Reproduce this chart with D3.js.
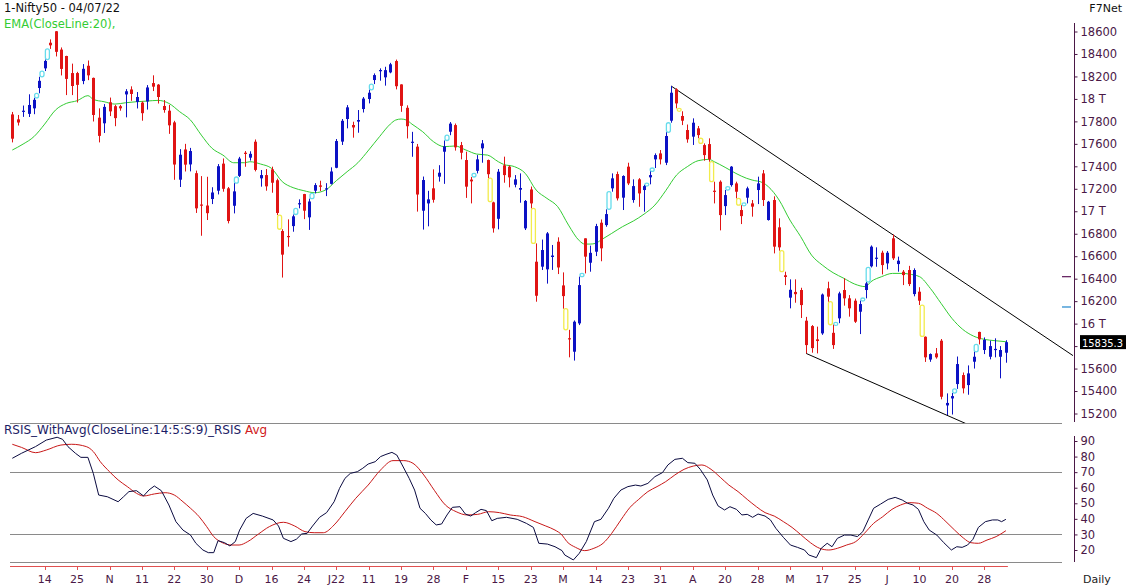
<!DOCTYPE html>
<html>
<head>
<meta charset="utf-8">
<script src="https://cdn.jsdelivr.net/npm/d3@7"></script>
<style>
  body { margin: 0; background: #fff; }
  svg { display: block; font-family: "DejaVu Sans", Verdana, sans-serif; }
</style>
</head>
<body>
<svg id="chart" width="1126" height="587"></svg>
<script>
// daily candles, bar 0 = 06 Oct 2021 ... bar 184 = 04 Jul 2022
var opens = [17862,17818,17886,17867,17916,18097,18272,18500,18602,18439,18382,18230,18230,18159,18295,18187,17833,17783,17970,17935,
  17935,18040,18084,17973,17967,17977,18141,18127,17937,17895,17791,17281,17550,17417,17339,17060,17051,17109,17183,17424,
  17204,17049,17315,17521,17477,17619,17293,17322,17373,17276,16824,16780,16868,17066,17153,16946,17183,17230,17201,17244,
  17387,17620,17821,17768,17798,17910,17999,18168,18250,18192,18236,18337,18129,17921,17613,17575,17005,17070,17204,17308,
  17530,17708,17767,17589,17456,17282,17360,17560,17456,17079,16933,17409,17397,17236,17192,16848,17194,16551,16507,16483,
  16593,16729,16340,15870,15750,16002,16759,16542,16640,16898,16877,17204,17331,17121,17397,17100,17284,17189,17302,17462,
  17515,17432,17806,18085,17848,17723,17664,17738,17589,17598,17183,17263,17046,17233,17248,17011,17121,17070,17189,17337,
  16922,17100,16857,16430,16231,16282,16299,16026,15978,15860,15913,16314,15918,16047,16299,16225,16204,16106,16299,16510,
  16578,16631,16536,16759,16530,16462,16477,16263,16284,15883,15680,15735,15848,15272,15334,15462,15542,15453,15661,15926,
  15765,15705,15768,15705,15741];
var highs = [17884,17857,17941,18041,18009,18197,18350,18530,18604,18458,18384,18314,18241,18310,18342,18190,17916,17954,18012,17947,
  17947,18087,18112,18061,17978,18123,18210,18132,17990,17946,17805,17553,17600,17564,17362,17313,17307,17214,17420,17470,
  17216,17250,17484,17536,17534,17639,17367,17376,17397,17290,16840,16928,16971,17106,17155,17112,17250,17272,17250,17391,
  17643,17821,17945,17797,17901,18017,18081,18227,18272,18286,18321,18350,18130,17943,17707,17599,17309,17182,17373,17410,
  17630,17794,17781,17617,17530,17305,17500,17634,17460,17085,17376,17486,17408,17322,17337,17100,17220,16714,16748,16815,
  16700,16768,16456,15945,16028,16418,16759,16694,16888,16927,17017,17337,17353,17320,17432,17284,17295,17235,17355,17515,
  17545,17703,18115,18095,17890,17772,17827,17759,17604,17649,17263,17275,17189,17402,17263,17054,17219,17100,17308,17367,
  17092,17133,16937,16462,16394,16394,16319,16060,15987,15973,16268,16373,15990,16284,16403,16254,16223,16204,16370,16696,
  16679,16649,16646,16793,16596,16477,16514,16492,16324,15886,15735,15783,15863,15379,15382,15707,15565,15628,15749,15928,
  15877,15848,15869,15800,15852];
var lows = [17613,17763,17840,17839,17864,18050,18248,18445,18378,18209,18034,18034,17968,18131,18167,17799,17613,17697,17847,17757,
  17895,17836,17983,17915,17806,17905,18070,17959,17877,17689,17280,17216,17354,17355,16985,16782,16922,17064,17150,17174,
  16892,16981,17305,17396,17451,17355,17219,17183,17165,16966,16410,16685,16818,17026,16930,16834,17159,17180,17135,17238,
  17383,17590,17738,17655,17699,17879,17960,18132,18162,18118,18228,18085,17885,17648,17485,16997,16837,16866,17077,17264,
  17244,17677,17540,17462,17119,17070,17337,17432,17295,16810,16839,17254,17213,17213,17076,16833,17026,16195,16477,16356,
  16478,16441,16133,15700,15671,15987,16447,16462,16601,16555,16862,17174,17096,17011,17233,17076,17040,16996,17240,17385,
  17417,17411,17788,17916,17767,17610,17590,17650,17450,17441,17070,16830,16966,17219,17115,16886,17070,16952,17064,17047,
  16917,16625,16649,16343,16136,16186,16050,15735,15741,15735,15900,16195,15775,16004,16160,16062,16006,15907,16225,16500,
  16506,16438,16483,16566,16462,16343,16334,16243,16165,15659,15660,15688,15326,15186,15191,15419,15379,15367,15600,15815,
  15729,15682,15700,15513,15652];
var closes = [17646,17790,17895,17946,17992,18161,18338,18477,18419,18267,18178,18115,18125,18268,18210,17857,17671,17929,17889,17829,
  17916,18068,18044,18017,17873,18102,18109,18017,17901,17765,17416,17503,17415,17536,17026,17053,16983,17167,17401,17200,
  16913,17177,17469,17510,17511,17368,17322,17222,17254,16985,16614,16770,16955,17072,17005,17087,17233,17218,17204,17354,
  17625,17805,17925,17746,17812,18003,18055,18212,18257,18256,18308,18113,17938,17757,17619,17149,17278,17106,17102,17343,
  17577,17780,17569,17521,17219,17266,17462,17604,17330,16848,17352,17322,17302,17284,17207,17092,17070,16248,16655,16803,
  16606,16500,16245,15863,16017,16343,16596,16630,16868,16670,16975,17293,17115,17314,17248,17224,17159,17224,17322,17500,
  17462,17670,18055,17960,17806,17640,17788,17678,17500,17462,17174,16966,17144,17397,17174,16957,17204,17041,17248,17100,
  17085,16685,16679,16415,16301,16262,16165,15809,15782,15845,16259,16240,15809,16269,16225,16136,16017,16174,16358,16685,
  16587,16521,16631,16581,16560,16432,16352,16477,16204,15700,15729,15700,15349,15294,15355,15640,15424,15557,15705,15860,
  15855,15800,15775,15765,15835];

// EMA(20) at these bars
var emaIdx = [0,2,4,6,8,10,12,14,15,17,19,21,23,25,27,29,31,33,35,37,39,41,43,44,46,48,50,52,54,56,58,60,62,64,66,68,70,71,72,73,74,76,78,80,82,84,86,88,90,
  91,93,95,97,99,101,103,105,106,107,108,109,111,113,115,117,119,121,123,125,127,129,130,132,134,136,137,139,140,142,144,146,148,150,152,154,156,158,159,161,163,165,166,168,170,172,174,176,178,180,182,184];
var emaVal = [17545,17598,17664,17776,17901,17960,17984,18029,17996,17975,17954,17966,17975,17981,17987,17960,17886,17812,17678,17560,17500,17432,17432,17441,17420,17382,17263,17210,17183,17165,17189,17272,17352,17432,17545,17664,17776,17812,17821,17812,17776,17708,17619,17575,17581,17545,17509,17500,17441,
  17417,17397,17337,17189,17115,17041,16877,16738,16708,16708,16714,16744,16803,16863,16913,16975,17055,17183,17322,17397,17450,17462,17441,17391,17337,17293,17278,17254,17219,17100,16922,16774,16610,16521,16453,16403,16352,16329,16373,16418,16447,16447,16441,16418,16314,16180,16047,15949,15889,15860,15848,15839];

// trend lines through two candle extremes
var trendUpperIdx = [122, 163];
var trendUpperVal = [18115, 16793];
var trendLowerIdx = [147, 173];
var trendLowerVal = [15735, 15186];

// RSI (black) and its average (red)
var rsiIdx = [0,1.7,4.3,6.3,8.3,9.3,10.3,11.7,12.7,14,15,16,17.6,19.6,20.6,21.6,23,24.3,25.3,26.3,27.6,29,30.3,31.6,33,34,35.3,36.3,37.3,38.1,39.3,40.3,41.3,42.1,43.3,44.6,46.3,48.3,49.3,50.2,51.6,52.6,53.6,54.6,55.6,56.9,58.2,59.6,60.6,61.6,62.6,63.9,64.9,65.9,67.2,68.2,69.2,70.3,71.2,72.2,73.5,74.5,75.5,76.5,77.5,78.5,79.5,80.5,81.5,82.9,83.9,84.9,85.8,86.8,87.8,88.8,89.8,91.5,93.5,95.2,96.5,97.5,99.1,100.5,101.8,
  102.3,103.9,105,106.3,107.8,109,110.4,111.4,112.7,114,115.4,116.4,117.7,119,120.4,121.4,122.7,124.1,125.1,126.4,127.4,128.7,129.7,130.7,131.9,132.9,134.1,135.1,136.1,137.1,138.1,139.4,140.4,141.4,142.8,144.1,145.4,146.7,147.5,148.9,149.8,150.9,151.8,152.8,154.1,155.3,156.5,157.5,158.5,159.5,160.8,162.2,163.5,164.8,165.8,166.8,167.8,168.8,169.8,171.2,172.5,173.9,174.9,175.9,176.9,177.9,178.9,180.2,181.5,182.5,183.2,184];
var rsiVal = [78.9,82.1,86.4,90.6,92.4,91.1,86.4,82.1,79.5,79.5,69.2,55.3,54.2,51,54.2,57.5,58.1,54.7,58.5,61.1,58.1,48.9,38.2,32.8,29.6,24.3,20,18.3,18.3,26,24.7,22.6,25.4,32.8,40.3,43.5,41.8,39.3,35.4,27.5,25.4,26.9,30.3,30.7,35.4,41,44,51,59.6,66,69.2,70.3,72.5,75.2,76.7,80,81.4,82.7,81,74.6,66,58.5,46.8,43.5,39.3,36.1,36.7,42.5,47.4,47.8,43.1,41.8,44,46.1,45.3,38.8,40.3,41,39.7,37.1,34.5,24.3,23.8,22.1,19.6,
  16.8,13.6,17.9,25.4,38.2,39.7,46.8,53.2,58.5,60.7,61.7,61.1,62.8,67.1,69.7,74.6,78.2,78.9,76.1,75.7,71.8,65,55.3,48.3,45.7,47.8,46.1,42.5,42.9,41,43.1,41.8,39.3,33.9,28.1,23.2,21.7,20,16.8,15.1,21.1,24.3,22.1,27.5,29.6,29.6,28.6,31.8,39.3,46.8,49.5,52.5,53.8,52.1,50,48.9,46.1,38.2,32.8,29.6,24.7,20,22.1,21.7,23.2,26.9,34.5,38.2,39.3,39.3,38.2,39.7];
var avgIdx = [0,1.7,4.3,6.3,9,11,13.7,15,16.3,18,19.6,21.3,23,24.3,26.3,28.3,30,31.6,33,34.6,36,37.3,38.9,40.6,42,43.6,45.6,47.6,50.2,52.3,54.2,55.9,57.6,59.6,61.6,63.6,65.9,68.2,70.5,72.5,74.2,76.2,78.2,80.2,82.2,84.2,86.2,88.2,90.2,92.2,94.5,96.8,98.8,100.5,101.8,
  102.7,104.3,106,107.7,109.4,111,112.7,114.4,116,117.7,119.4,121,122.7,124.4,126.1,127.7,129.4,131.1,132.7,134.4,136.1,137.8,139.4,141.1,142.8,144.4,146.1,147.8,149.5,151.2,152.8,154.5,156.2,157.8,159.5,161.2,162.9,164.5,166.2,167.8,169.5,171.2,172.9,174.5,176.2,177.5,178.9,180.5,182.2,184];
var avgVal = [87.9,85.9,82.5,84.2,87.4,87.9,86.4,83.2,76.7,70.3,65,60.7,56.4,54.7,56,56.8,55.3,51,46.8,41.4,35,28.6,24.7,23.2,23.2,25.4,30.3,35,37.8,35.4,31.8,31.1,31.1,36.1,44.6,53.2,61.7,71.4,77.4,77.4,75.7,68.2,58.1,48.9,44.6,42.5,42.9,44.6,44,42.5,41.4,38.2,35.4,32.8,29.6,
  25.4,21.7,19.6,21.1,24.3,30.7,39.3,47.4,52.5,57.5,60.7,63.9,68.2,71.8,73.9,74.6,71.8,66.7,61.7,57.5,52.5,47.8,44,41.8,38.2,34.5,29.6,24.7,21.1,20,21.1,23.2,25.4,30.7,37.1,41.4,46.1,48.9,50.4,50,46.8,43.5,38.2,32.8,27.5,24.7,24.3,26.4,28.6,32.4];

// axes
var priceTicks = d3.range(15200, 18601, 200);
var rsiTicks = [20, 30, 40, 50, 60, 70, 80, 90];
var rsiLevels = [70, 30];
var dateTickIdx = d3.range(6, 181, 6);
var dateTickLabels = ['14','25','N','11','22','30','D','16','24','J22','11','19','28','F','15','23','M','14','23','31','A','20','28','M','17','25','J','10','20','28'];
var lastClose = 15835.3;
var axisMarks = [16418, 16148];

var svg = d3.select('#chart');
var axisColor = '#4a1846';
var fontFam = '"DejaVu Sans", Verdana, sans-serif';
var x = d3.scaleLinear().domain([0, 184]).range([12.3, 1005.9]);
var yP = d3.scaleLinear().domain([15200, 18600]).range([413.5, 31.5]);
var yR = d3.scaleLinear().domain([20, 90]).range([550, 441]);

svg.append('defs').append('clipPath').attr('id', 'pclip')
  .append('rect').attr('x', 0).attr('y', 14).attr('width', 1073).attr('height', 409);

// header texts
svg.append('text').attr('x', 4).attr('y', 12).attr('font-size', 11.5).attr('fill', '#111').text('1-Nifty50 - 04/07/22');
svg.append('text').attr('x', 4).attr('y', 28).attr('font-size', 11.5).attr('fill', '#33cc33').text('EMA(CloseLine:20),');
svg.append('text').attr('x', 1122).attr('y', 12).attr('font-size', 11).attr('fill', '#111').attr('text-anchor', 'end').text('F7Net');

// panel separators and RSI levels
svg.append('line').attr('x1', 10).attr('x2', 1062).attr('y1', 423.5).attr('y2', 423.5).attr('stroke', '#8a8a8a');
svg.selectAll('.lvl').data(rsiLevels).enter().append('line')
  .attr('x1', 10).attr('x2', 1062)
  .attr('y1', function(d) { return Math.round(yR(d)) + 0.5; })
  .attr('y2', function(d) { return Math.round(yR(d)) + 0.5; })
  .attr('stroke', '#8a8a8a');
svg.append('line').attr('x1', 10).attr('x2', 1062).attr('y1', 562.5).attr('y2', 562.5).attr('stroke', '#8a8a8a');

var price = svg.append('g').attr('clip-path', 'url(#pclip)');

// trend lines, extended to the right
function trendLine(idx, val, toIdx) {
  var slope = (val[1] - val[0]) / (idx[1] - idx[0]);
  return [[x(idx[0]), yP(val[0])], [x(toIdx), yP(val[0] + slope * (toIdx - idx[0]))]];
}
price.append('path').attr('d', d3.line()(trendLine(trendUpperIdx, trendUpperVal, 200)))
  .attr('stroke', '#000').attr('fill', 'none');
price.append('path').attr('d', d3.line()(trendLine(trendLowerIdx, trendLowerVal, 185)))
  .attr('stroke', '#000').attr('fill', 'none');

// EMA
price.append('path').datum(emaIdx)
  .attr('d', d3.line().x(function(d) { return x(d); }).y(function(d, k) { return yP(emaVal[k]); }).curve(d3.curveMonotoneX))
  .attr('fill', 'none').attr('stroke', '#33cc33').attr('stroke-width', 1);

// gap markers: cyan for gap up, yellow for gap down
var gaps = [];
for (var i = 1; i < closes.length; i++) {
  if (lows[i] > highs[i - 1]) gaps.push({ i: i, a: highs[i - 1], b: lows[i], c: '#66dcec' });
  if (highs[i] < lows[i - 1]) gaps.push({ i: i, a: lows[i - 1], b: highs[i], c: '#f2ec4c' });
}
price.selectAll('.gap').data(gaps).enter().append('rect')
  .attr('x', function(d) { return (x(d.i - 1) + x(d.i)) / 2 - 2; })
  .attr('width', 4)
  .attr('y', function(d) { var h = Math.abs(yP(d.a) - yP(d.b)); return Math.min(yP(d.a), yP(d.b)) - (h < 3 ? (3 - h) / 2 : 0); })
  .attr('height', function(d) { return Math.max(3, Math.abs(yP(d.a) - yP(d.b))); })
  .attr('rx', 2).attr('fill', 'none').attr('stroke', function(d) { return d.c; }).attr('stroke-width', 1.3);

// candles
var bars = d3.range(closes.length);
function col(i) { return closes[i] >= opens[i] ? '#0c12c4' : '#e01414'; }
price.selectAll('.wick').data(bars).enter().append('line')
  .attr('x1', function(i) { return Math.round(x(i)) + 0.5; })
  .attr('x2', function(i) { return Math.round(x(i)) + 0.5; })
  .attr('y1', function(i) { return yP(highs[i]); })
  .attr('y2', function(i) { return yP(lows[i]); })
  .attr('stroke', col).attr('stroke-width', 1);
price.selectAll('.body').data(bars).enter().append('rect')
  .attr('x', function(i) { return Math.round(x(i)) - 1; })
  .attr('width', 3)
  .attr('y', function(i) { return yP(Math.max(opens[i], closes[i])); })
  .attr('height', function(i) { return Math.max(1.2, Math.abs(yP(opens[i]) - yP(closes[i]))); })
  .attr('fill', col);

// price axis; the label hidden under the last-price box is left out
svg.append('line').attr('x1', 1074.5).attr('x2', 1074.5).attr('y1', 23).attr('y2', 422).attr('stroke', axisColor);
var pAxis = svg.append('g').attr('transform', 'translate(1074.5,0)')
  .call(d3.axisRight(yP).tickValues(priceTicks).tickSize(3).tickPadding(3)
    .tickFormat(function(d) {
      if (Math.abs(yP(d) - yP(lastClose)) < 9) return '';
      return d % 1000 === 0 ? (d / 1000) + ' T' : d;
    }));
pAxis.select('.domain').remove();
pAxis.selectAll('line').attr('stroke', axisColor);
pAxis.selectAll('text').attr('fill', axisColor).attr('font-size', 11.5).attr('font-family', fontFam);

svg.selectAll('.amark').data(axisMarks).enter().append('line')
  .attr('x1', 1062).attr('x2', 1071)
  .attr('y1', function(d) { return yP(d); }).attr('y2', function(d) { return yP(d); })
  .attr('stroke', function(d, k) { return k === 0 ? '#6a2a66' : '#2f8fd0'; }).attr('stroke-width', 1.3);

svg.append('rect').attr('x', 1080).attr('y', yP(lastClose) - 7).attr('width', 46).attr('height', 14).attr('fill', '#000');
svg.append('text').attr('x', 1082).attr('y', yP(lastClose) + 4.5).attr('font-size', 11).attr('fill', '#fff')
  .attr('textLength', 41).attr('lengthAdjust', 'spacingAndGlyphs').text(lastClose.toFixed(1));

// RSI panel
svg.append('text').attr('x', 4).attr('y', 434).attr('font-size', 12)
  .call(function(t) {
    t.append('tspan').attr('fill', '#1c1c66').text('RSIS_WithAvg(CloseLine:14:5:S:9)_RSIS ');
    t.append('tspan').attr('fill', '#d02020').text('Avg');
  });

var rsiG = svg.append('g');
rsiG.append('path').datum(avgIdx)
  .attr('d', d3.line().x(function(d) { return x(d); }).y(function(d, k) { return yR(avgVal[k]); }).curve(d3.curveMonotoneX))
  .attr('fill', 'none').attr('stroke', '#c81818').attr('stroke-width', 1);
rsiG.append('path').datum(rsiIdx)
  .attr('d', d3.line().x(function(d) { return x(d); }).y(function(d, k) { return yR(rsiVal[k]); }))
  .attr('fill', 'none').attr('stroke', '#0a0a40').attr('stroke-width', 1);

svg.append('line').attr('x1', 1074.5).attr('x2', 1074.5).attr('y1', 436).attr('y2', 562).attr('stroke', axisColor);
var rAxis = svg.append('g').attr('transform', 'translate(1074.5,0)')
  .call(d3.axisRight(yR).tickValues(rsiTicks).tickSize(3).tickPadding(3));
rAxis.select('.domain').remove();
rAxis.selectAll('line').attr('stroke', axisColor);
rAxis.selectAll('text').attr('fill', axisColor).attr('font-size', 11.5).attr('font-family', fontFam);

// time axis
svg.append('line').attr('x1', 10).attr('x2', x(184) + 2).attr('y1', 566.5).attr('y2', 566.5).attr('stroke', '#e05050');
svg.selectAll('.dt').data(dateTickIdx).enter().append('line')
  .attr('x1', function(d) { return Math.round(x(d)) + 0.5; }).attr('x2', function(d) { return Math.round(x(d)) + 0.5; })
  .attr('y1', 566).attr('y2', 570).attr('stroke', '#e05050');
svg.selectAll('.dl').data(dateTickIdx).enter().append('text')
  .attr('x', function(d) { return x(d); }).attr('y', 583)
  .attr('text-anchor', 'middle').attr('font-size', 11).attr('fill', axisColor)
  .text(function(d, k) { return dateTickLabels[k]; });
svg.append('text').attr('x', 1083).attr('y', 583).attr('font-size', 11).attr('fill', '#222').text('Daily');
</script>
</body>
</html>
